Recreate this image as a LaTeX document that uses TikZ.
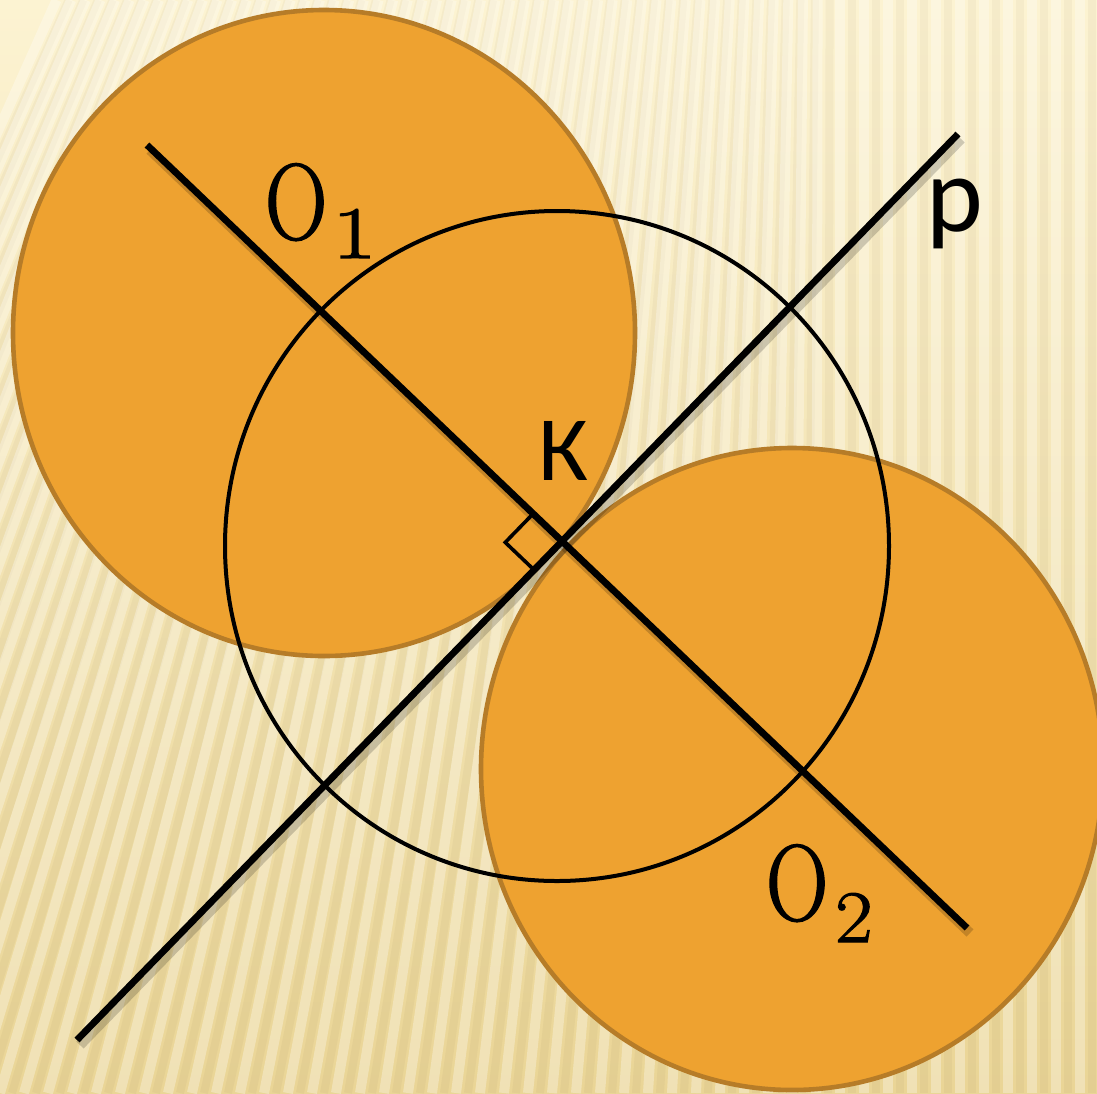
\documentclass[tikz,border=0pt]{standalone}
\usepackage{fontspec}
\usepackage{graphicx}
\newfontfamily\calib{Carlito}
\newfontfamily\oserif[FakeBold=1.6]{Latin Modern Roman}
\usetikzlibrary{calc}
\definecolor{bgtop}{RGB}{252,243,210}
\definecolor{bgbot}{RGB}{234,213,150}
\definecolor{orfill}{RGB}{238,162,48}
\definecolor{ordraw}{RGB}{182,124,40}
\tikzset{
  disc/.style={fill=orfill, draw=ordraw, line width=2.3pt},
  thin circle/.style={draw=black, line width=2pt},
  mainline/.style={draw=black, line width=3.4pt},
  shadowline/.style={draw=black, opacity=0.18, line width=5pt},
  rightmark/.style={draw=black, line width=1.8pt, line join=miter},
  lbl/.style={inner sep=0pt, outer sep=0pt, anchor=base west, text=black},
  stripe/.style={draw=white, opacity=0.3, line width=5pt},
  dstripe/.style={draw=black!60!brown, opacity=0.04, line width=4pt}
}
\begin{document}
\begin{tikzpicture}[x=0.5pt, y=-0.5pt]
\useasboundingbox (0,0) rectangle (1097,1093);
% background
\fill[top color=bgtop, bottom color=bgbot] (0,0) rectangle (1097,1093);
\begin{scope}
\clip (0,0) rectangle (1097,1093);
\foreach \i in {-18,...,52}{
  \pgfmathsetmacro\xb{\i*24}
  \pgfmathsetmacro\xt{\xb + 320*max(0,(820-\xb)/820)}
  \draw[stripe] (\xb,1093) -- (\xt,0);
  \draw[dstripe] (\xb+12,1093) -- (\xt+12,0);
}
\end{scope}
% centres
\coordinate (c1) at (324,333);
\coordinate (c2) at (792,769);
\coordinate (c0) at (557,546);
% orange discs
\draw[disc] (c1) ellipse [x radius=311, y radius=323];
\draw[disc] (c2) ellipse [x radius=311, y radius=321];
% black circle
\draw[thin circle] (c0) ellipse [x radius=332, y radius=335];
% line end points
\coordinate (a1) at (147,145);
\coordinate (a2) at (967,928);
\coordinate (b1) at (958,134);
\coordinate (b2) at (77,1040);
\coordinate (K) at (intersection of a1--a2 and b1--b2);
% shadows
\draw[shadowline] ([shift={(3,5)}]a1) -- ([shift={(3,5)}]a2);
\draw[shadowline] ([shift={(3,5)}]b1) -- ([shift={(3,5)}]b2);
% right angle mark
\coordinate (r1) at ($(K)!20pt!(a1)$);
\coordinate (r2) at ($(K)!20pt!(b2)$);
\coordinate (r3) at ($(r1)+(r2)-(K)$);
\draw[rightmark] (r1) -- (r3) -- (r2);
% lines
\draw[mainline] (a1) -- (a2);
\draw[mainline] (b1) -- (b2);
% labels
\node[lbl] (o1) at (265,239) {\oserif\fontsize{54}{60}\selectfont\scalebox{0.8}[1]{O}\kern2.5pt\raisebox{-9.5pt}{\fontsize{37}{40}\selectfont\scalebox{1.3}[1]{1}}};
\node[lbl] (o2) at (766,920) {\oserif\fontsize{54}{60}\selectfont\scalebox{0.8}[1]{O}\kern3.5pt\raisebox{-11pt}{\fontsize{37}{40}\selectfont\scalebox{1.1}[1]{2}}};
\node[lbl] (k) at (538,480) {\calib\fontsize{46}{50}\selectfont К};
\node[lbl] (p) at (926,231) {\calib\fontsize{54}{60}\selectfont р};
\end{tikzpicture}
\end{document}
